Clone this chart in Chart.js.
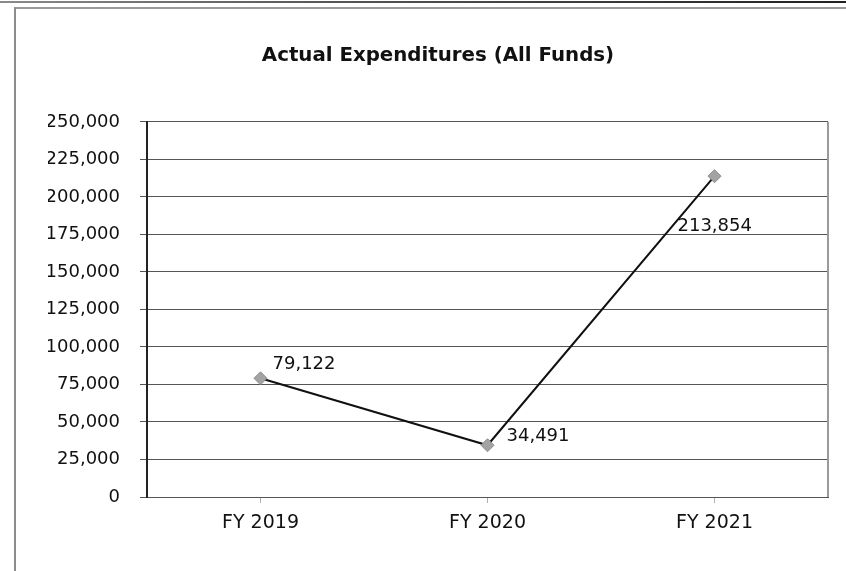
<!DOCTYPE html>
<html>
<head>
<meta charset="utf-8">
<script src="https://cdn.jsdelivr.net/npm/chart.js@4/dist/chart.umd.min.js"></script>
<style>
    html, body {
        margin: 0;
        padding: 0;
        background: #fff;
    }
    .page {
        position: relative;
        width: 846px;
        height: 571px;
        overflow: hidden;
    }
    .topRule {
        position: absolute;
        left: 0;
        top: 1px;
        width: 846px;
        height: 2px;
        background: linear-gradient(to right, #8a8a8a, #555 40%, #222);
    }
    .frame {
        position: absolute;
        left: 14px;
        top: 7px;
        width: 900px;
        height: 700px;
        border-left: 2px solid #8c8c8c;
        border-top: 2px solid #9a9a9a;
    }
    canvas {
        position: absolute;
        left: 0;
        top: 0;
    }
</style>
</head>
<body>
<div class="page">
    <div class="topRule"></div>
    <div class="frame"></div>
    <canvas id="expChart" width="846" height="571"></canvas>
</div>
<script>
const years = ['FY 2019', 'FY 2020', 'FY 2021']
const expenditures = [79122, 34491, 213854]
const yMax = 250000
const yStep = 25000

// where each value label sits relative to its point (dx, dy)
const labelOffsets = [[12, -14], [19, -9], [-37, 50]]

const fmt = v => v.toLocaleString('en-US')

const font = "'DejaVu Sans', sans-serif"
const padLeft = 48

// right edge of the plot box
const plotBorder = {
    id: 'plotBorder',
    beforeDatasetsDraw(chart) {
        const {ctx, chartArea} = chart
        ctx.save()
        ctx.strokeStyle = '#9a9a9a'
        ctx.lineWidth = 2
        ctx.beginPath()
        ctx.moveTo(chartArea.right, chartArea.top)
        ctx.lineTo(chartArea.right, chartArea.bottom)
        ctx.stroke()
        ctx.restore()
    }
}

// numbers next to the points
const valueLabels = {
    id: 'valueLabels',
    afterDatasetsDraw(chart) {
        const {ctx} = chart
        const meta = chart.getDatasetMeta(0)
        ctx.save()
        ctx.font = '18px ' + font
        ctx.fillStyle = '#111'
        ctx.textAlign = 'left'
        ctx.textBaseline = 'middle'
        meta.data.forEach((pt, i) => {
            const [dx, dy] = labelOffsets[i]
            ctx.fillText(fmt(expenditures[i]), pt.x + dx, pt.y + dy)
        })
        ctx.restore()
    }
}

new Chart(document.getElementById('expChart'), {
    type: 'line',
    data: {
        labels: years,
        datasets: [{
            data: expenditures,
            borderColor: '#111',
            borderWidth: 2,
            pointStyle: 'rectRot',
            pointRadius: 6.5,
            pointBackgroundColor: '#a3a3a3',
            pointBorderColor: '#8a8a8a',
            pointBorderWidth: 1,
            tension: 0
        }]
    },
    options: {
        responsive: false,
        animation: false,
        layout: {
            padding: {left: padLeft, right: 18, top: 0, bottom: 0}
        },
        scales: {
            x: {
                offset: true,
                grid: {
                    drawOnChartArea: false,
                    color: '#b0b0b0',
                    tickLength: 6
                },
                border: {
                    color: '#555',
                    width: 1
                },
                ticks: {
                    color: '#111',
                    padding: 9,
                    font: {family: font, size: 19}
                },
                afterFit(scale) {
                    scale.height = 74
                }
            },
            y: {
                min: 0,
                max: yMax,
                grid: {
                    color: '#555',
                    lineWidth: 1,
                    tickLength: 7
                },
                border: {
                    color: '#222',
                    width: 2
                },
                ticks: {
                    stepSize: yStep,
                    color: '#111',
                    padding: 20,
                    font: {family: font, size: 18},
                    callback: v => fmt(v)
                },
                afterFit(scale) {
                    scale.width = 147 - padLeft
                }
            }
        },
        plugins: {
            legend: {display: false},
            tooltip: {enabled: false},
            title: {
                display: true,
                text: 'Actual Expenditures (All Funds)',
                color: '#111',
                font: {family: font, size: 19.8, weight: 'bold'},
                padding: {top: 44, bottom: 54.2}
            }
        }
    },
    plugins: [plotBorder, valueLabels]
})
</script>
</body>
</html>
